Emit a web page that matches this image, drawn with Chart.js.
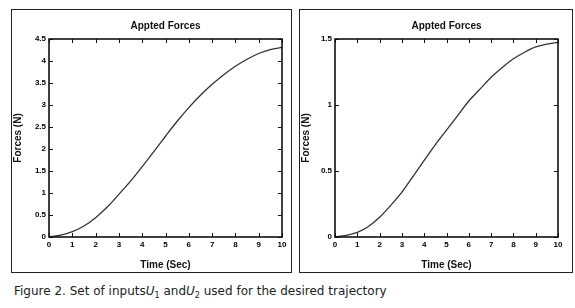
<!DOCTYPE html>
<html>
<head>
<meta charset="utf-8">
<script src="https://cdn.jsdelivr.net/npm/chart.js@4/dist/chart.umd.min.js"></script>
<style>
  body { margin: 0; background: #fff; width: 575px; height: 308px; position: relative; overflow: hidden; }
  .frame { position: absolute; border: 1.5px solid #222; box-sizing: border-box; }
  canvas { position: absolute; }
  #caption { position: absolute; left: 14px; top: 284px; font-family: "DejaVu Sans", sans-serif; font-size: 12px; color: #222; white-space: nowrap; }
  #caption sub { font-size: 8px; }
</style>
</head>
<body>
<div class="frame" style="left:11px;top:9px;width:281px;height:264px;"></div>
<div class="frame" style="left:299px;top:9px;width:274px;height:264px;"></div>
<canvas id="chartU1" width="278" height="261" style="left:12px;top:10px;"></canvas>
<canvas id="chartU2" width="271" height="261" style="left:300px;top:10px;"></canvas>
<div id="caption">Figure 2. Set of inputs<i>U</i><sub>1</sub> and<i>U</i><sub>2</sub> used for the desired trajectory</div>
<script>
const times = [0, 0.5, 1, 1.5, 2, 2.5, 3, 3.5, 4, 4.5, 5, 5.5, 6, 6.5, 7, 7.5, 8, 8.5, 9, 9.5, 10];
const forcesU1 = [0, 0.04, 0.12, 0.25, 0.44, 0.68, 0.97, 1.27, 1.60, 1.94, 2.29, 2.63, 2.94, 3.22, 3.47, 3.69, 3.88, 4.04, 4.17, 4.26, 4.31];
const forcesU2 = [0, 0.013, 0.035, 0.08, 0.15, 0.24, 0.34, 0.46, 0.58, 0.70, 0.81, 0.92, 1.03, 1.12, 1.21, 1.285, 1.35, 1.40, 1.44, 1.462, 1.475];
const xTicks = [0, 1, 2, 3, 4, 5, 6, 7, 8, 9, 10];
const yTicksU1 = [0, 0.5, 1, 1.5, 2, 2.5, 3, 3.5, 4, 4.5];
const yTicksU2 = [0, 0.5, 1, 1.5];

const tickFont = { family: "Liberation Sans, Arial", size: 8, weight: "bold" };
const labelFont = { family: "Liberation Sans, Arial", size: 10, weight: "bold" };

// matlab style box with ticks pointing inside
const innerTicks = {
  id: "innerTicks",
  afterDraw(chart) {
    const { ctx, chartArea: a, scales: { x, y } } = chart;
    ctx.save();
    ctx.strokeStyle = "#111";
    ctx.lineWidth = 1;
    ctx.beginPath();
    x.ticks.forEach(t => {
      const px = Math.round(x.getPixelForValue(t.value)) + 0.5;
      ctx.moveTo(px, a.bottom); ctx.lineTo(px, a.bottom - 4);
      ctx.moveTo(px, a.top); ctx.lineTo(px, a.top + 4);
    });
    y.ticks.forEach(t => {
      const py = Math.round(y.getPixelForValue(t.value)) + 0.5;
      ctx.moveTo(a.left, py); ctx.lineTo(a.left + 4, py);
      ctx.moveTo(a.right, py); ctx.lineTo(a.right - 4, py);
    });
    ctx.stroke();
    ctx.lineWidth = 1.6;
    ctx.strokeRect(a.left, a.top, a.right - a.left, a.bottom - a.top);
    ctx.restore();
  }
};

function makeChart(id, values, yTicks, yWidth, rightPad) {
  return new Chart(document.getElementById(id), {
    type: "line",
    data: {
      datasets: [{
        data: times.map((t, i) => ({ x: t, y: values[i] })),
        borderColor: "#333",
        borderWidth: 1.3,
        pointRadius: 0,
        cubicInterpolationMode: "monotone",
        fill: false
      }]
    },
    options: {
      responsive: false,
      animation: false,
      devicePixelRatio: 1,
      layout: { padding: { left: 0, right: rightPad, top: 0, bottom: 0 } },
      plugins: {
        legend: { display: false },
        tooltip: { enabled: false },
        title: {
          display: true,
          text: "Appted Forces",
          fullSize: false,
          color: "#111",
          font: labelFont,
          padding: { top: 10, bottom: 7 }
        }
      },
      scales: {
        x: {
          type: "linear",
          min: 0,
          max: 10,
          grid: { display: false, drawTicks: false },
          border: { display: false },
          afterBuildTicks: s => { s.ticks = xTicks.map(v => ({ value: v })); },
          ticks: { color: "#000", font: tickFont, padding: 3, maxRotation: 0, callback: v => String(v) },
          title: { display: true, text: "Time (Sec)", color: "#111", font: labelFont, padding: { top: 3, bottom: 0 } },
          afterFit: s => { s.height = 34; }
        },
        y: {
          type: "linear",
          min: 0,
          max: yTicks[yTicks.length - 1],
          grid: { display: false, drawTicks: false },
          border: { display: false },
          afterBuildTicks: s => { s.ticks = yTicks.map(v => ({ value: v })); },
          ticks: { color: "#000", font: tickFont, padding: 3, callback: v => String(v) },
          title: { display: true, text: "Forces (N)", color: "#111", font: labelFont, padding: { top: 0, bottom: 4 } },
          afterFit: s => { s.width = yWidth; }
        }
      }
    },
    plugins: [innerTicks]
  });
}

makeChart("chartU1", forcesU1, yTicksU1, 37, 8);
makeChart("chartU2", forcesU2, yTicksU2, 35, 13);
</script>
</body>
</html>
